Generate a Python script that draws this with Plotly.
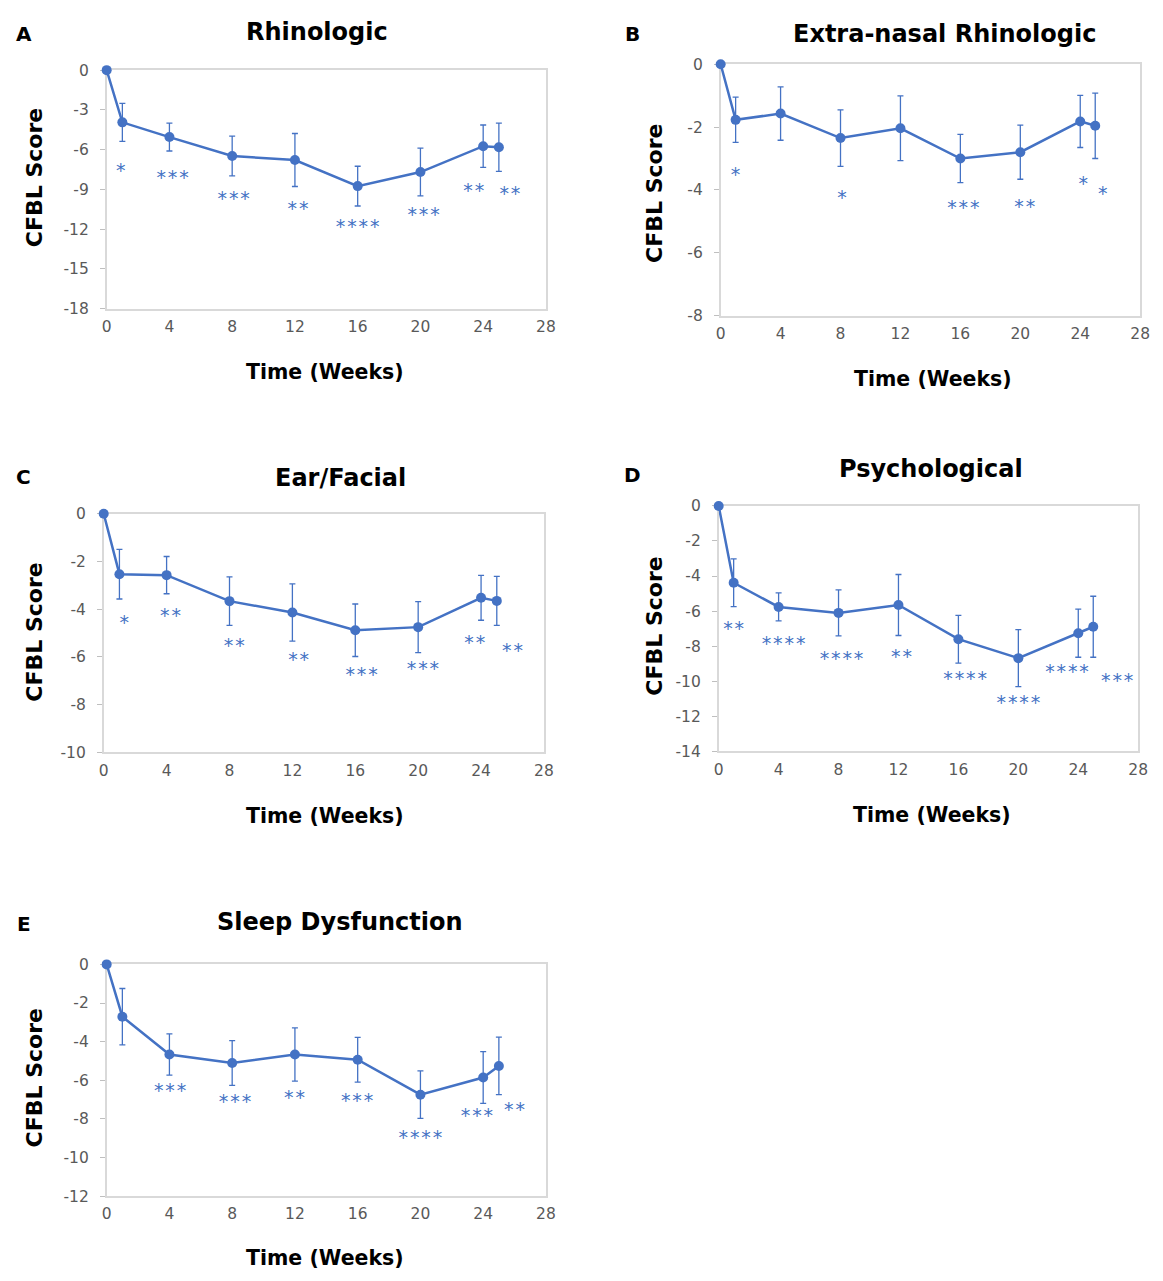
import plotly.graph_objects as go

W, H = 1163, 1281
BLUE = "#4472C4"
FONT = "DejaVu Sans, Arial, sans-serif"

weeks = [0, 1, 4, 8, 12, 16, 20, 24, 25]

A_mean = [0, -3.94, -5.05, -6.48, -6.78, -8.75, -7.69, -5.74, -5.82]
A_err = [0, 1.43, 1.05, 1.5, 2.0, 1.5, 1.8, 1.6, 1.82]
A_sig = ["*", "***", "***", "**", "****", "***", "**", "**"]
A_sig_x = [0.9, 4.2, 8.1, 12.2, 16.0, 20.2, 23.4, 25.7]
A_sig_y = [-7.7, -8.2, -9.8, -10.6, -11.9, -11.0, -9.2, -9.45]

B_mean = [0, -1.77, -1.57, -2.35, -2.04, -3.0, -2.80, -1.82, -1.96]
B_err = [0, 0.72, 0.85, 0.9, 1.03, 0.77, 0.86, 0.83, 1.04]
B_sig = ["*", "*", "***", "**", "*", "*"]
B_sig_x = [1.0, 8.1, 16.2, 20.3, 24.2, 25.5]
B_sig_y = [-3.56, -4.31, -4.62, -4.58, -3.86, -4.18]

C_mean = [0, -2.53, -2.57, -3.66, -4.14, -4.88, -4.75, -3.52, -3.65]
C_err = [0, 1.04, 0.78, 1.02, 1.2, 1.1, 1.07, 0.94, 1.03]
C_sig = ["*", "**", "**", "**", "***", "***", "**", "**"]
C_sig_x = [1.3, 4.25, 8.3, 12.4, 16.4, 20.3, 23.6, 26.0]
C_sig_y = [-4.62, -4.35, -5.61, -6.19, -6.82, -6.55, -5.45, -5.80]

D_mean = [0, -4.38, -5.76, -6.10, -5.65, -7.6, -8.68, -7.26, -6.89]
D_err = [0, 1.36, 0.8, 1.31, 1.74, 1.36, 1.62, 1.37, 1.74]
D_sig = ["**", "****", "****", "**", "****", "****", "****", "***"]
D_sig_x = [1.0, 4.33, 8.2, 12.2, 16.45, 20.0, 23.25, 26.6]
D_sig_y = [-7.07, -7.97, -8.83, -8.68, -9.92, -11.29, -9.55, -10.07]

E_mean = [0, -2.71, -4.67, -5.11, -4.67, -4.94, -6.75, -5.86, -5.26]
E_err = [0, 1.46, 1.07, 1.16, 1.38, 1.16, 1.23, 1.34, 1.49]
E_sig = ["***", "***", "**", "***", "****", "***", "**"]
E_sig_x = [4.04, 8.18, 11.97, 15.96, 20.0, 23.6, 26.0]
E_sig_y = [-6.64, -7.18, -6.97, -7.13, -9.04, -7.9, -7.63]

x_ticks = [0, 4, 8, 12, 16, 20, 24, 28]

panels = [
    dict(letter="A", title="Rhinologic", mean=A_mean, err=A_err, sig=A_sig, sx=A_sig_x, sy=A_sig_y,
         box=(103, 548, 62, 304), yr=(-18, 0), dt=3,
         let_xy=(19, 25), tit_xy=(316, 23), xt_xy=(324, 368), yt_xy=(30, 171)),
    dict(letter="B", title="Extra-nasal Rhinologic", mean=B_mean, err=B_err, sig=B_sig, sx=B_sig_x, sy=B_sig_y,
         box=(725, 1150, 56, 311), yr=(-8, 0), dt=2,
         let_xy=(636, 25), tit_xy=(952, 25), xt_xy=(940, 375), yt_xy=(658, 187)),
    dict(letter="C", title="Ear/Facial", mean=C_mean, err=C_err, sig=C_sig, sx=C_sig_x, sy=C_sig_y,
         box=(100, 546, 512, 754), yr=(-10, 0), dt=2,
         let_xy=(19, 475), tit_xy=(340, 476), xt_xy=(324, 818), yt_xy=(30, 632)),
    dict(letter="D", title="Psychological", mean=D_mean, err=D_err, sig=D_sig, sx=D_sig_x, sy=D_sig_y,
         box=(723, 1148, 504, 753), yr=(-14, 0), dt=2,
         let_xy=(636, 473), tit_xy=(938, 467), xt_xy=(939, 817), yt_xy=(658, 626)),
    dict(letter="E", title="Sleep Dysfunction", mean=E_mean, err=E_err, sig=E_sig, sx=E_sig_x, sy=E_sig_y,
         box=(103, 548, 969, 1204), yr=(-12, 0), dt=2,
         let_xy=(19, 928), tit_xy=(339, 926), xt_xy=(324, 1267), yt_xy=(30, 1084)),
]


def fx(px):
    return px / W


def fy(py):
    return 1 - py / H


fig = go.Figure()
annotations = []
layout = {}

for i, p in enumerate(panels, start=1):
    sfx = "" if i == 1 else str(i)
    xa, ya = "x" + sfx, "y" + sfx
    fig.add_trace(go.Scatter(
        x=weeks, y=p["mean"], mode="lines+markers", xaxis=xa, yaxis=ya,
        line=dict(color=BLUE, width=2.5),
        marker=dict(color=BLUE, size=10),
        error_y=dict(type="data", array=p["err"], visible=True, color=BLUE, thickness=1.3, width=3),
        cliponaxis=False, showlegend=False,
    ))
    fig.add_trace(go.Scatter(
        x=p["sx"], y=p["sy"], mode="text", xaxis=xa, yaxis=ya,
        text=["\u200a".join(list(s)) for s in p["sig"]],
        textposition="middle center",
        textfont=dict(family=FONT, size=19, color=BLUE),
        cliponaxis=False, showlegend=False,
    ))
    x0, x1, y0, y1 = p["box"]
    lo, hi = p["yr"]
    yvals = list(range(lo, hi + 1, p["dt"]))
    layout["xaxis" + sfx] = dict(
        domain=[fx(x0), fx(x1)], range=[0, 28], tickvals=x_ticks, ticktext=[str(v) for v in x_ticks],
        anchor=ya, layer="below traces",
        showline=True, linecolor="#d9d9d9", linewidth=1.5, mirror=True,
        showgrid=False, zeroline=False, ticks="", ticklabelstandoff=3,
        tickfont=dict(family=FONT, size=15.5, color="#595959"),
    )
    layout["yaxis" + sfx] = dict(
        domain=[fy(y1), fy(y0)], range=[lo, hi], tickvals=yvals, ticktext=[str(v) for v in yvals],
        anchor=xa, layer="below traces",
        showline=True, linecolor="#d9d9d9", linewidth=1.5, mirror=True,
        showgrid=False, zeroline=False, ticks="outside", ticklen=5, tickcolor="#bfbfbf",
        ticklabelstandoff=8,
        tickfont=dict(family=FONT, size=15.5, color="#595959"),
    )
    annotations.append(dict(text="<b>" + p["letter"] + "</b>", x=fx(p["let_xy"][0]), y=fy(p["let_xy"][1]),
                            xref="paper", yref="paper", showarrow=False, xanchor="center", yanchor="middle",
                            font=dict(family=FONT, size=20, color="black")))
    annotations.append(dict(text="<b>" + p["title"] + "</b>", x=fx(p["tit_xy"][0]), y=fy(p["tit_xy"][1]),
                            xref="paper", yref="paper", showarrow=False, xanchor="center", yanchor="middle",
                            font=dict(family=FONT, size=24, color="black")))
    annotations.append(dict(text="<b>Time (Weeks)</b>", x=fx(p["xt_xy"][0]), y=fy(p["xt_xy"][1]),
                            xref="paper", yref="paper", showarrow=False, xanchor="center", yanchor="middle",
                            font=dict(family=FONT, size=20.5, color="black")))
    annotations.append(dict(text="<b>CFBL Score</b>", x=fx(p["yt_xy"][0]), y=fy(p["yt_xy"][1]),
                            xref="paper", yref="paper", showarrow=False, xanchor="center", yanchor="middle",
                            textangle=-90, font=dict(family=FONT, size=22, color="black")))

fig.update_layout(
    width=W, height=H, margin=dict(l=0, r=0, t=0, b=0),
    paper_bgcolor="white", plot_bgcolor="white",
    annotations=annotations, **layout,
)

post = (
    "document.documentElement.style.margin='0';"
    "document.body.style.margin='0';document.body.style.padding='0';"
    "document.body.style.overflow='hidden';"
    "var d=document.getElementById('{plot_id}');"
    "d.style.position='absolute';d.style.left='0px';d.style.top='0px';"
)

fig.write_html("out.html", post_script=post, config={"displayModeBar": False})
